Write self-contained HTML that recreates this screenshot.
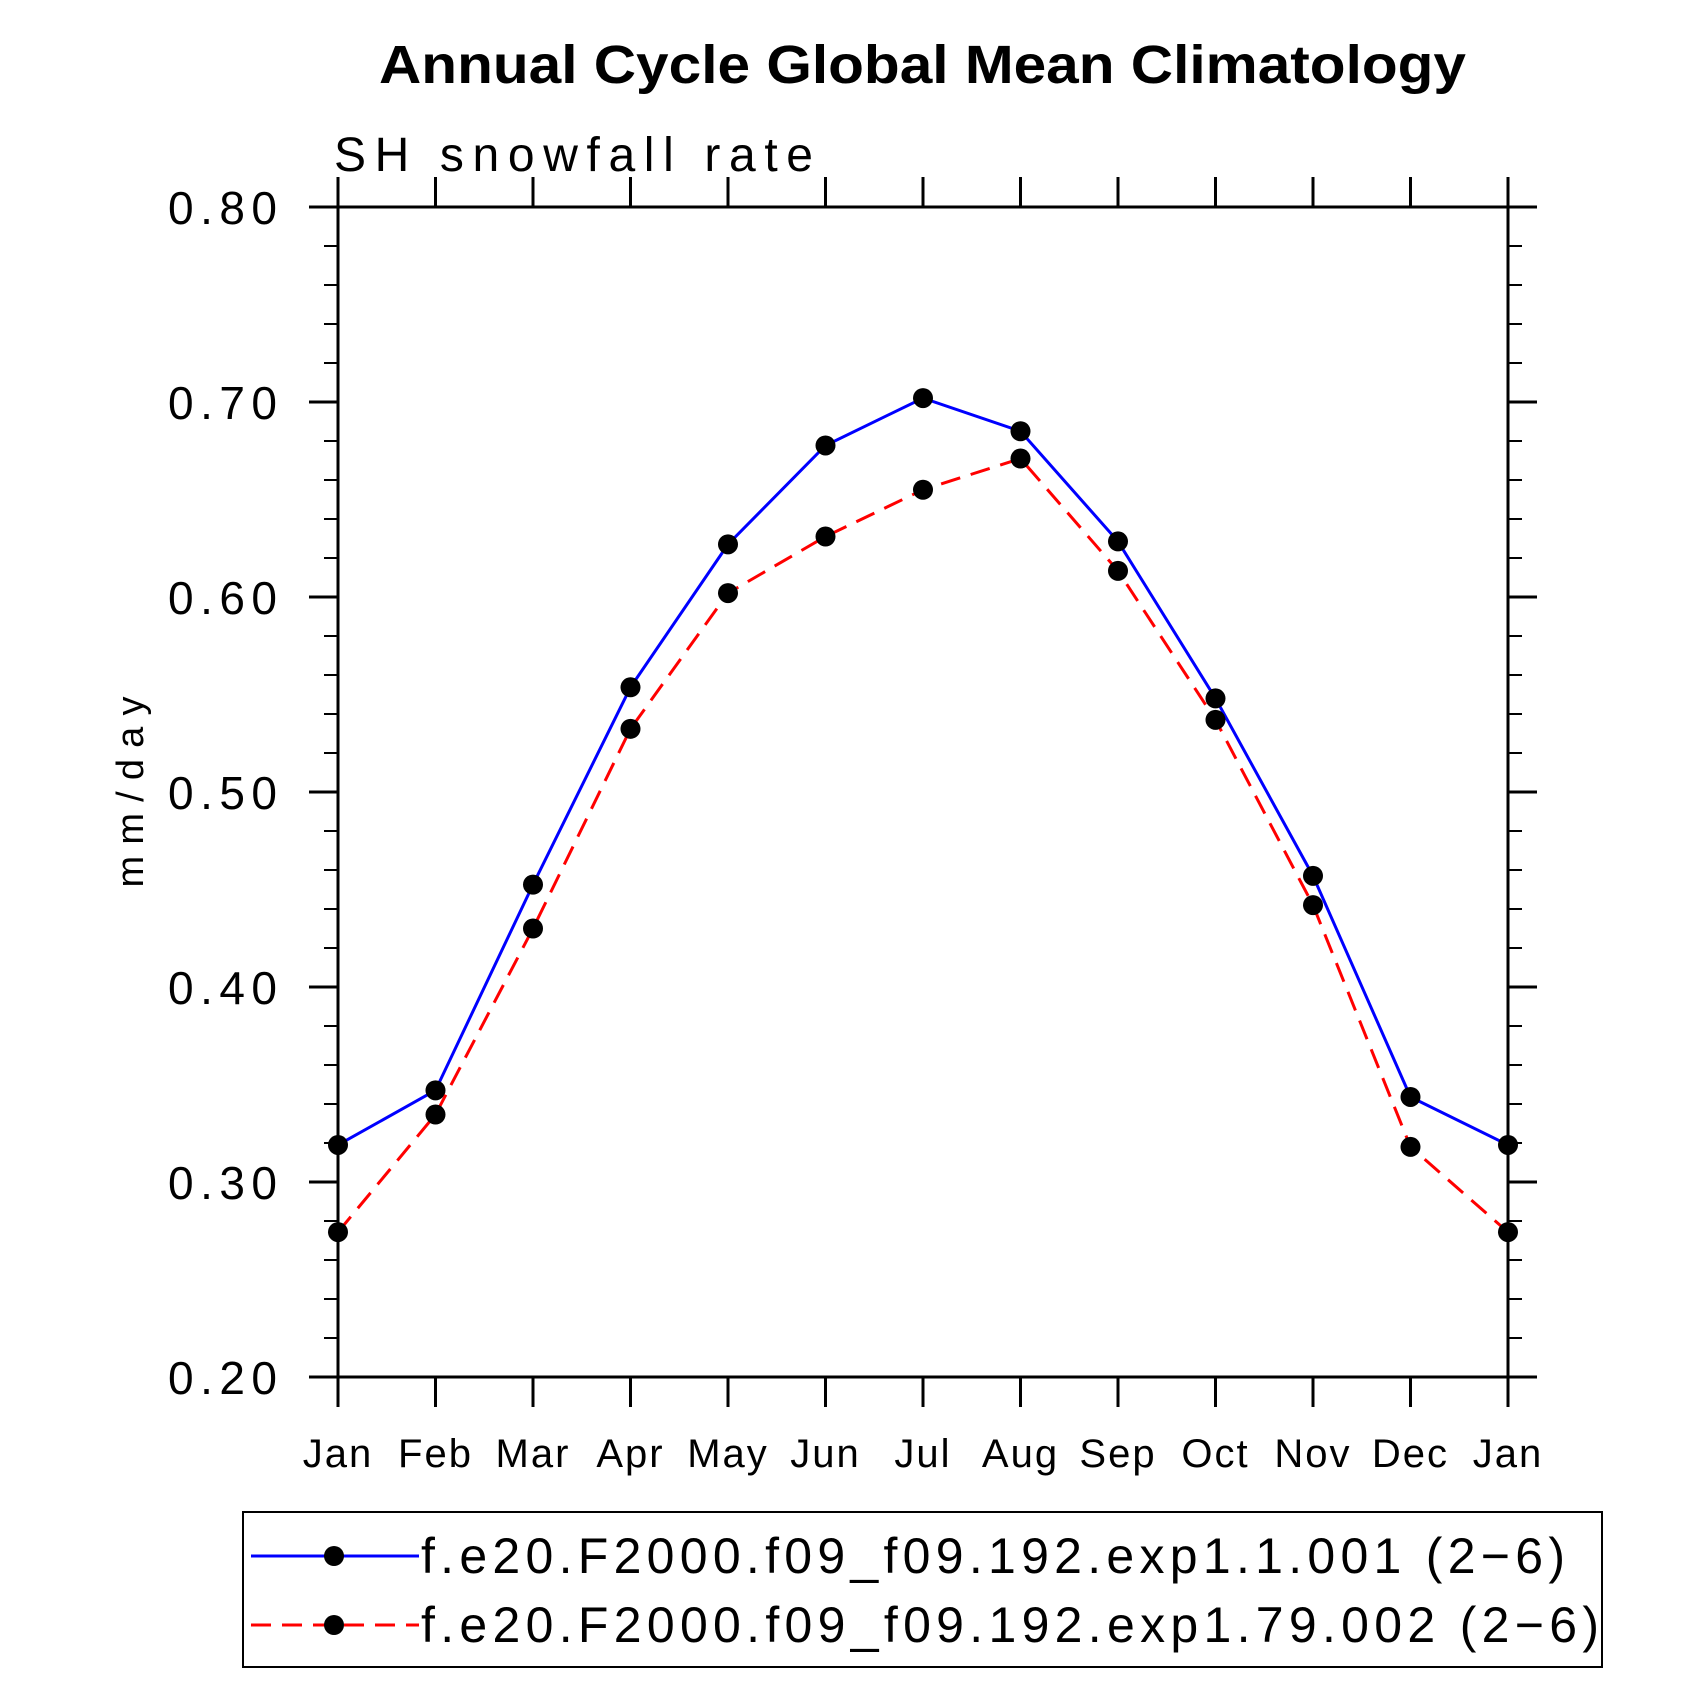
<!DOCTYPE html>
<html><head><meta charset="utf-8"><style>
html,body{margin:0;padding:0;background:#fff;}
svg{display:block;}
text{font-family:"Liberation Sans",sans-serif;}
</style></head><body>
<svg id="chart" width="1708" height="1708" viewBox="0 0 1708 1708">
<text x="379" y="83" textLength="1087" lengthAdjust="spacingAndGlyphs" font-size="54" font-weight="bold">Annual Cycle Global Mean Climatology</text>
<text x="334" y="171" textLength="479" lengthAdjust="spacing" font-size="48">SH snowfall rate</text>
<text transform="translate(143,792) rotate(-90)" text-anchor="middle" textLength="191" lengthAdjust="spacing" font-size="38">mm/day</text>
<g id="axes"></g>
<g id="series"></g>
<rect x="243" y="1512" width="1359" height="155" fill="none" stroke="#000" stroke-width="2"/>
<g>
<line x1="251" y1="1556" x2="419" y2="1556" stroke="#00f" stroke-width="3"/>
<circle cx="334" cy="1556" r="10" fill="#000"/>
<text x="421" y="1573" textLength="1144" lengthAdjust="spacing" font-size="50">f.e20.F2000.f09_f09.192.exp1.1.001 (2−6)</text>
</g>
<g>
<line x1="251" y1="1625" x2="419" y2="1625" stroke="#f00" stroke-width="3" stroke-dasharray="20,11"/>
<circle cx="334" cy="1625" r="10" fill="#000"/>
<text x="421" y="1642" textLength="1178" lengthAdjust="spacing" font-size="50">f.e20.F2000.f09_f09.192.exp1.79.002 (2−6)</text>
</g>
</svg>
<script>
const months = ["Jan","Feb","Mar","Apr","May","Jun","Jul","Aug","Sep","Oct","Nov","Dec","Jan"];
const blueValues = [0.319,0.347,0.4525,0.5537,0.627,0.6777,0.702,0.685,0.6285,0.548,0.457,0.3436,0.319];
const redValues = [0.2743,0.3346,0.430,0.5324,0.602,0.631,0.655,0.671,0.6134,0.537,0.442,0.318,0.2743];
const yTicks = [0.2,0.3,0.4,0.5,0.6,0.7,0.8];
const yTickLabels = ["0.20","0.30","0.40","0.50","0.60","0.70","0.80"];

const L=338,R=1508,T=207,B=1377,YMIN=0.2,YMAX=0.8;
const NS="http://www.w3.org/2000/svg";
function xS(i){return L+(R-L)*i/(months.length-1);}
function yS(v){return B-(v-YMIN)/(YMAX-YMIN)*(B-T);}
function mk(tag,attrs,parent){const e=document.createElementNS(NS,tag);for(const k in attrs)e.setAttribute(k,attrs[k]);parent.appendChild(e);return e;}
const axes=document.getElementById('axes');
const frame=mk('rect',{x:L,y:T,width:R-L,height:B-T,fill:'none',stroke:'#000','stroke-width':3},axes);


for(let v=0.2;v<=0.8001;v+=0.02){
  const y=yS(v);
  const a=mk('line',{x1:L-14,y1:y,x2:L,y2:y,stroke:'#000','stroke-width':2},axes);
  
  
  const b=mk('line',{x1:R,y1:y,x2:R+14,y2:y,stroke:'#000','stroke-width':2},axes);
  
  
}
yTicks.forEach((v,i)=>{
  const y=yS(v);
  const a=mk('line',{x1:L-29,y1:y,x2:L,y2:y,stroke:'#000','stroke-width':3},axes);
  
  
  const b=mk('line',{x1:R,y1:y,x2:R+29,y2:y,stroke:'#000','stroke-width':3},axes);
  
  
  const t=mk('text',{x:168,y:y+17,textLength:109,lengthAdjust:'spacing','font-size':46},axes);
  t.textContent=yTickLabels[i];
  
  
});
months.forEach((m,i)=>{
  const x=xS(i);
  const a=mk('line',{x1:x,y1:B,x2:x,y2:B+30,stroke:'#000','stroke-width':3},axes);
  
  
  const b=mk('line',{x1:x,y1:T-30,x2:x,y2:T,stroke:'#000','stroke-width':3},axes);
  
  
  const t=mk('text',{x:x,y:1467,'text-anchor':'middle','font-size':40,'letter-spacing':2},axes);
  t.textContent=m;
  
  
});
const series=document.getElementById('series');
function draw(vals,color,dash,name){
  const pts=vals.map((v,i)=>xS(i)+','+yS(v)).join(' ');
  const pl=mk('polyline',{points:pts,fill:'none',stroke:color,'stroke-width':3},series);
  if(dash)pl.setAttribute('stroke-dasharray',dash);
  
  
  vals.forEach((v,i)=>{
    const c=mk('circle',{cx:xS(i),cy:yS(v),r:10,fill:'#000'},series);
    
    
  });
}
draw(blueValues,'#00f',null,'exp1-1-001');
draw(redValues,'#f00','20,11','exp1-79-002');
</script>
</body></html>
